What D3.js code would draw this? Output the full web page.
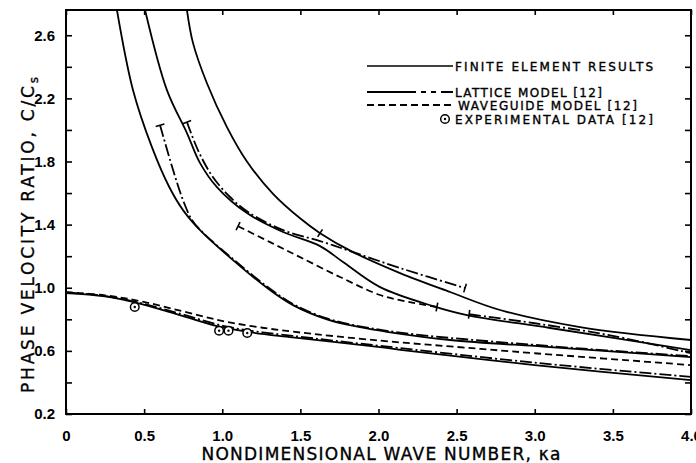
<!DOCTYPE html>
<meta charset="utf-8">
<style>
  body { margin: 0; background: #fff; }
  svg text { font-family: "DejaVu Sans", sans-serif; fill: #000; }
  .curve { fill: none; stroke: #000; stroke-width: 1.8; }
  .lattice { stroke-dasharray: 12,3,2,3; }
  .waveguide { stroke-dasharray: 7,4; }
  .axis line { stroke: #000; stroke-width: 1.6; }
  .axis text { font-family: "Liberation Sans", Arial, sans-serif; font-size: 15px; font-weight: bold; }
  .title { font-size: 17px; stroke: #000; stroke-width: 0.35; }
  .legend-text { font-size: 12px; stroke: #000; stroke-width: 0.35; }
</style>
<body></body>
<script src="https://d3js.org/d3.v7.min.js"></script>
<script>
// tick values and labels
var xTickValues = [0, 0.5, 1.0, 1.5, 2.0, 2.5, 3.0, 3.5, 4.0];
var xTickLabels = ["0", "0.5", "1.0", "1.5", "2.0", "2.5", "3.0", "3.5", "4.0"];
var yTickValues = [0.2, 0.4, 0.6, 0.8, 1.0, 1.2, 1.4, 1.6, 1.8, 2.0, 2.2, 2.4, 2.6];
var yTickLabels = ["0.2", "0.6", "1.0", "1.4", "1.8", "2.2", "2.6"];

// lowest branch (starts near 0.97)
var feMode1 = [[0, 0.966], [0.25, 0.945], [0.49, 0.895], [0.75, 0.82], [0.99, 0.752], [1.2, 0.715], [1.45, 0.686], [2.01, 0.624], [2.14, 0.607], [3.0, 0.51], [4.0, 0.415]];
var latMode1 = [[0, 0.97], [0.25, 0.948], [0.49, 0.9], [0.75, 0.83], [0.99, 0.762], [1.2, 0.725], [1.45, 0.695], [2.01, 0.632], [3.0, 0.525], [4.0, 0.435]];
var wgMode1 = [[0, 0.972], [0.25, 0.952], [0.49, 0.912], [0.75, 0.85], [0.99, 0.792], [1.2, 0.755], [1.45, 0.722], [2.01, 0.665], [2.5, 0.625], [3.0, 0.585], [4.0, 0.51]];

// steep branches
var feS1 = [[0.326, 2.76], [0.429, 2.252], [0.55, 1.891], [0.66, 1.64], [0.749, 1.492], [0.858, 1.365], [1.069, 1.175], [1.286, 1.0], [1.453, 0.89], [1.67, 0.80], [1.882, 0.75], [2.054, 0.721], [2.458, 0.669], [3.098, 0.624], [4.0, 0.561]];
var latS1 = [[0.602, 2.03], [0.678, 1.77], [0.749, 1.555], [0.806, 1.43], [0.87, 1.355], [1.069, 1.182], [1.286, 1.008], [1.453, 0.897], [1.67, 0.806], [2.054, 0.727], [3.098, 0.63], [4.0, 0.567]];
var feS2 = [[0.506, 2.76], [0.646, 2.252], [0.774, 1.98], [0.858, 1.79], [0.966, 1.638], [1.158, 1.473], [1.389, 1.353], [1.626, 1.264], [1.773, 1.163], [2.01, 1.004], [2.349, 0.884], [2.566, 0.827], [3.098, 0.745], [4.0, 0.605]];
var latS2 = [[0.774, 2.05], [0.85, 1.86], [0.941, 1.70], [1.05, 1.575], [1.165, 1.48], [1.389, 1.365], [1.626, 1.296], [1.837, 1.226], [2.138, 1.125], [2.554, 0.998]];
var latS2b = [[2.58, 0.832], [3.0, 0.775], [3.5, 0.695], [4.0, 0.585]];
var wgS2 = [[1.101, 1.39], [1.306, 1.289], [1.498, 1.194], [1.754, 1.068], [2.01, 0.954], [2.2, 0.909], [2.374, 0.878]];
var feS3 = [[0.774, 2.76], [0.813, 2.55], [0.902, 2.296], [1.03, 2.018], [1.158, 1.80], [1.325, 1.595], [1.498, 1.44], [1.626, 1.346], [1.837, 1.226], [2.138, 1.093], [2.458, 0.973], [2.778, 0.859], [3.29, 0.751], [4.0, 0.669]];

// experimental points
var expX = [0.44, 0.98, 1.04, 1.16];
var expY = [0.878, 0.728, 0.728, 0.713];

var legendLabels = ["FINITE ELEMENT RESULTS", "LATTICE MODEL [12]", "WAVEGUIDE MODEL [12]", "EXPERIMENTAL DATA [12]"];

var width = 696, height = 463;
var pL = 66, pR = 691, pT = 10, pB = 414;

var svg = d3.select("body").append("svg")
    .attr("width", width)
    .attr("height", height);

var x = d3.scaleLinear().domain([0, 4]).range([pL, pR]);
var y = d3.scaleLinear().domain([0.2, 2.76]).range([pB, pT]);

svg.append("defs").append("clipPath").attr("id", "plot")
  .append("rect").attr("x", pL).attr("y", pT)
  .attr("width", pR - pL).attr("height", pB - pT);

// axes (ticks point inward)
var yLab = d => { var l = yTickLabels.find(t => Math.abs(+t - d) < 1e-6); return l || ""; };
svg.append("g").attr("class", "axis").attr("transform", `translate(${pL},0)`)
  .call(d3.axisLeft(y).tickValues(yTickValues).tickSize(-6).tickPadding(11).tickFormat(yLab))
  .call(g => g.select(".domain").remove());
svg.append("g").attr("class", "axis").attr("transform", `translate(${pR},0)`)
  .call(d3.axisRight(y).tickValues(yTickValues).tickSize(-6).tickFormat(""))
  .call(g => g.select(".domain").remove());
svg.append("g").attr("class", "axis").attr("transform", `translate(0,${pB})`)
  .call(d3.axisBottom(x).tickValues(xTickValues).tickSize(-5).tickPadding(16).tickFormat((d, i) => xTickLabels[i]))
  .call(g => g.select(".domain").remove());
svg.append("g").attr("class", "axis").attr("transform", `translate(0,${pT})`)
  .call(d3.axisTop(x).tickValues(xTickValues).tickSize(-5).tickFormat(""))
  .call(g => g.select(".domain").remove());

svg.append("rect")
  .attr("x", pL).attr("y", pT)
  .attr("width", pR - pL).attr("height", pB - pT)
  .attr("fill", "none").attr("stroke", "#000").attr("stroke-width", 2);

// titles
svg.append("text").attr("class", "title")
  .attr("x", 381).attr("y", 460)
  .attr("text-anchor", "middle")
  .attr("textLength", 359).attr("lengthAdjust", "spacing")
  .text("NONDIMENSIONAL WAVE NUMBER, \u03BAa");

var yt = svg.append("text").attr("class", "title")
  .attr("transform", "translate(34,235) rotate(-90)")
  .attr("text-anchor", "middle")
  .attr("textLength", 316).attr("lengthAdjust", "spacing");
yt.append("tspan").text("PHASE VELOCITY RATIO,  C/C");
yt.append("tspan").attr("font-size", 12).attr("dy", 4).text("s");

// curves
var line = d3.line().x(d => x(d[0])).y(d => y(d[1])).curve(d3.curveCatmullRom.alpha(0.5));
var plot = svg.append("g").attr("clip-path", "url(#plot)");

var curves = [
  { pts: feMode1, cls: "fe" },
  { pts: latMode1, cls: "lattice" },
  { pts: wgMode1, cls: "waveguide" },
  { pts: feS1, cls: "fe" },
  { pts: latS1, cls: "lattice" },
  { pts: feS2, cls: "fe" },
  { pts: latS2, cls: "lattice" },
  { pts: latS2b, cls: "lattice" },
  { pts: wgS2, cls: "waveguide" },
  { pts: feS3, cls: "fe" }
];
plot.selectAll("path.curve").data(curves).enter().append("path")
  .attr("class", d => "curve " + d.cls)
  .attr("d", d => line(d.pts));

// short cross bars at segment ends / marks
var bars = [
  { pts: latS1, i: 0 }, { pts: latS2, i: 0 }, { pts: latS2, i: latS2.length - 1 },
  { pts: wgS2, i: 0 }, { pts: wgS2, i: wgS2.length - 1 }, { pts: feS3, i: 7 }, { pts: latS2b, i: 0 }
];
bars.forEach(b => {
  var p = b.pts, i = b.i;
  var a = p[Math.max(i - 1, 0)], c = p[Math.min(i + 1, p.length - 1)];
  var dx = x(c[0]) - x(a[0]), dy = y(c[1]) - y(a[1]);
  var len = Math.hypot(dx, dy), nx = -dy / len * 4.5, ny = dx / len * 4.5;
  var px = x(p[i][0]), py = y(p[i][1]);
  svg.append("line")
    .attr("x1", px - nx).attr("y1", py - ny).attr("x2", px + nx).attr("y2", py + ny)
    .attr("stroke", "#000").attr("stroke-width", 1.6);
});

// experimental data
var expG = svg.append("g");
expX.forEach((v, i) => {
  expG.append("circle").attr("cx", x(v)).attr("cy", y(expY[i])).attr("r", 4.3)
    .attr("fill", "#fff").attr("stroke", "#000").attr("stroke-width", 1.5);
  expG.append("circle").attr("cx", x(v)).attr("cy", y(expY[i])).attr("r", 1.2).attr("fill", "#000");
});

// legend
var lg = svg.append("g");
var legY = [66, 92, 105, 119];
var legTextX = [455, 455, 458, 455];
var legTextLen = [198, 147, 179, 198];
lg.append("line").attr("x1", 367).attr("x2", 453).attr("y1", legY[0]).attr("y2", legY[0])
  .attr("stroke", "#000").attr("stroke-width", 1.6);
lg.append("line").attr("x1", 367).attr("x2", 453).attr("y1", legY[1]).attr("y2", legY[1])
  .attr("stroke", "#000").attr("stroke-width", 1.8).attr("stroke-dasharray", "49,5,5,5,5,5,40");
lg.append("line").attr("x1", 367).attr("x2", 451).attr("y1", legY[2]).attr("y2", legY[2])
  .attr("stroke", "#000").attr("stroke-width", 1.8).attr("stroke-dasharray", "7,4");
lg.append("circle").attr("cx", 445).attr("cy", legY[3]).attr("r", 4.3)
  .attr("fill", "#fff").attr("stroke", "#000").attr("stroke-width", 1.5);
lg.append("circle").attr("cx", 445).attr("cy", legY[3]).attr("r", 1.2).attr("fill", "#000");
legendLabels.forEach((t, i) => {
  lg.append("text").attr("class", "legend-text")
    .attr("x", legTextX[i]).attr("y", legY[i] + 4.5)
    .attr("textLength", legTextLen[i]).attr("lengthAdjust", "spacing")
    .text(t);
});
</script>
